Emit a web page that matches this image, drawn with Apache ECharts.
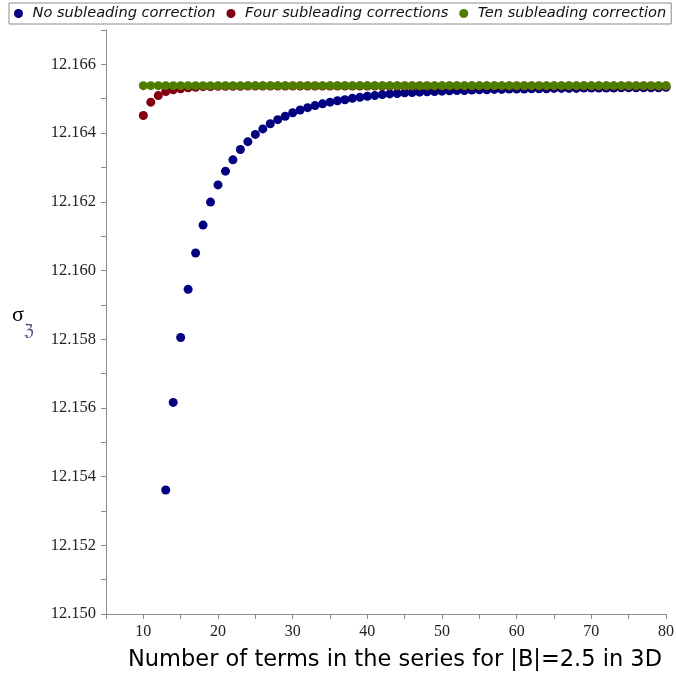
<!DOCTYPE html>
<html>
<head>
<meta charset="utf-8">
<script src="https://cdn.jsdelivr.net/npm/echarts@6/dist/echarts.min.js"></script>
<style>html,body{margin:0;padding:0;background:#fff}#c{width:676px;height:676px}</style>
</head>
<body>
<div id="c"></div>
<script>
var seriesNames = ['No subleading correction', 'Four subleading corrections', 'Ten subleading correction'];
var xTitle = 'Number of terms in the series for |B|=2.5 in 3D';

// No subleading correction: n = 13..80
var nNone = [13,14,15,16,17,18,19,20,21,22,23,24,25,26,27,28,29,30,31,32,33,34,35,36,37,38,39,40,41,42,43,44,45,46,47,48,49,50,51,52,53,54,55,56,57,58,59,60,61,62,63,64,65,66,67,68,69,70,71,72,73,74,75,76,77,78,79,80];
var vNone = [12.15361,12.15616,12.15805,12.15945,12.16051,12.16132,12.16199,12.16249,12.16289,12.16322,
  12.16352,12.16375,12.16396,12.16412,12.16427,12.16439,12.16449,12.16459,12.16467,12.16474,
  12.16480,12.16485,12.16490,12.16494,12.16497,12.16501,12.16504,12.16507,12.16509,12.16512,
  12.16514,12.16515,12.16517,12.16518,12.16519,12.16520,12.16521,12.16522,12.16523,12.16524,
  12.16524,12.16525,12.16526,12.16526,12.16527,12.16527,12.16528,12.16528,12.16528,12.16529,
  12.16529,12.16529,12.16530,12.16530,12.16530,12.16530,12.16531,12.16531,12.16531,12.16531,
  12.16531,12.16532,12.16532,12.16532,12.16532,12.16532,12.16532,12.16533];

// n = 10..80 for the corrected series
var nCorr = [10,11,12,13,14,15,16,17,18,19,20,21,22,23,24,25,26,27,28,29,30,31,32,33,34,35,36,37,38,39,40,41,42,43,44,45,46,47,48,49,50,51,52,53,54,55,56,57,58,59,60,61,62,63,64,65,66,67,68,69,70,71,72,73,74,75,76,77,78,79,80];
var vFour = [12.16451,12.16490,12.16509,12.16521,12.16526,12.16529,12.16532,12.16533,12.16535,12.16535,
  12.16536,12.16536,12.16536,12.16536,12.16537,12.16537,12.16537,12.16537,12.16537,12.16537,
  12.16537,12.16537,12.16537,12.16537,12.16537,12.16537,12.16537,12.16537,12.16537,12.16537,
  12.16537,12.16537,12.16537,12.16537,12.16537,12.16537,12.16537,12.16537,12.16537,12.16537,
  12.16537,12.16537,12.16537,12.16537,12.16537,12.16537,12.16537,12.16537,12.16537,12.16537,
  12.16537,12.16537,12.16537,12.16537,12.16537,12.16537,12.16537,12.16537,12.16537,12.16537,
  12.16537,12.16537,12.16537,12.16537,12.16537,12.16537,12.16537,12.16537,12.16537,12.16537,
  12.16537];
var vTen = [12.16538,12.16538,12.16538,12.16538,12.16538,12.16538,12.16538,12.16538,12.16538,12.16538,
  12.16538,12.16538,12.16538,12.16538,12.16538,12.16538,12.16538,12.16538,12.16538,12.16538,
  12.16538,12.16538,12.16538,12.16538,12.16538,12.16538,12.16538,12.16538,12.16538,12.16538,
  12.16538,12.16538,12.16538,12.16538,12.16538,12.16538,12.16538,12.16538,12.16538,12.16538,
  12.16538,12.16538,12.16538,12.16538,12.16538,12.16538,12.16538,12.16538,12.16538,12.16538,
  12.16538,12.16538,12.16538,12.16538,12.16538,12.16538,12.16538,12.16538,12.16538,12.16538,
  12.16538,12.16538,12.16538,12.16538,12.16538,12.16538,12.16538,12.16538,12.16538,12.16538,
  12.16538];

var colors = ['#000080', '#800010', '#4e7d00'];

function pairs(xs, ys) { return xs.map(function (x, i) { return [x, ys[i]]; }); }

var chart = echarts.init(document.getElementById('c'), null, {renderer: 'canvas'});
var axisGray = '#8c8c8c';
chart.setOption({
  animation: false,
  color: colors,
  legend: {
    data: seriesNames,
    left: 9, top: 3,
    icon: 'circle',
    itemWidth: 18, itemHeight: 9, itemGap: 11,
    padding: [3, 5, 3, 5],
    borderColor: '#8c8c8c', borderWidth: 1,
    itemStyle: {opacity: 1},
    textStyle: {fontFamily: 'DejaVu Sans', fontStyle: 'italic', fontSize: 14.6, color: '#111'}
  },
  grid: {left: 106, right: 10, top: 30, bottom: 62, containLabel: false, outerBoundsMode: 'none'},
  xAxis: {
    type: 'value', min: 5, max: 80, interval: 5,
    name: xTitle, nameLocation: 'middle', nameGap: 35,
    nameTextStyle: {fontFamily: 'DejaVu Sans', fontSize: 22.5, color: '#000', padding: [0, 0, 0, 18]},
    splitLine: {show: false},
    axisLine: {onZero: false, lineStyle: {color: axisGray}},
    axisTick: {length: 5, lineStyle: {color: axisGray}},
    axisLabel: {
      fontFamily: 'Liberation Serif', fontSize: 16, color: '#222', margin: 10,
      formatter: function (v) { return (Math.round(v) % 10 === 0) ? String(Math.round(v)) : ''; }
    }
  },
  yAxis: {
    type: 'value', min: 12.150, max: 12.167, interval: 0.001,
    splitLine: {show: false},
    axisLine: {onZero: false, lineStyle: {color: axisGray}},
    axisTick: {length: 5, lineStyle: {color: axisGray}},
    axisLabel: {
      fontFamily: 'Liberation Serif', fontSize: 16.5, color: '#222', margin: 10,
      formatter: function (v) { var k = Math.round(v * 1000); return (k % 2 === 0 && k < 12167) ? (k / 1000).toFixed(3) : ''; }
    }
  },
  graphic: [
    {type: 'text', left: 12, top: 304, style: {text: 'σ', font: '22px "Liberation Serif"', fill: '#000'}},
    {type: 'text', left: 24, top: 323, style: {text: 'ℨ', font: '17px "DejaVu Serif"', fill: '#4a5680'}}
  ],
  series: [
    {name: seriesNames[0], type: 'scatter', symbol: 'circle', symbolSize: 9, itemStyle: {opacity: 1}, data: pairs(nNone, vNone), z: 2},
    {name: seriesNames[1], type: 'scatter', symbol: 'circle', symbolSize: 9, itemStyle: {opacity: 1}, data: pairs(nCorr, vFour), z: 3},
    {name: seriesNames[2], type: 'scatter', symbol: 'circle', symbolSize: 9, itemStyle: {opacity: 1}, data: pairs(nCorr, vTen), z: 4}
  ]
});
</script>
</body>
</html>
